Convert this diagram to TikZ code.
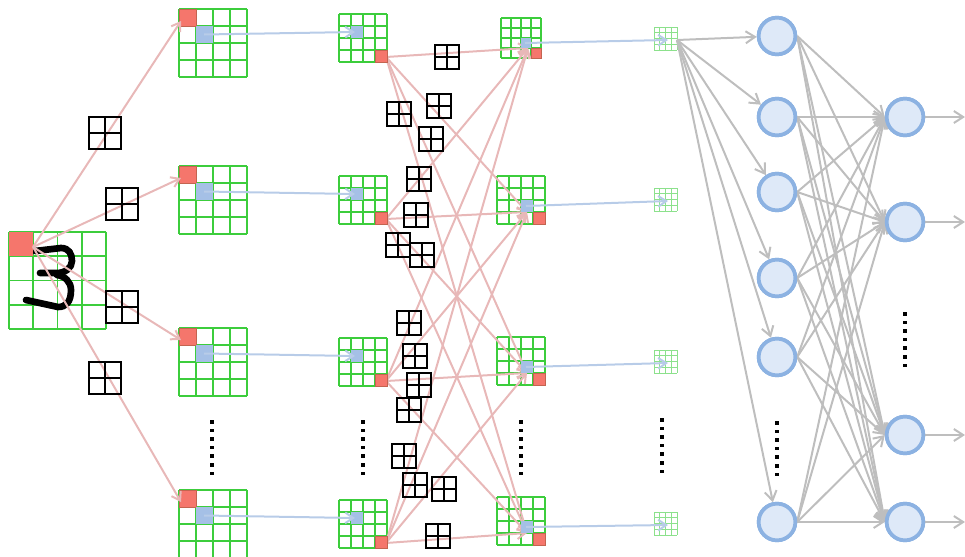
\documentclass[tikz,border=0pt]{standalone}
\usetikzlibrary{arrows.meta}
\definecolor{gridgreen}{RGB}{60,205,60}
\definecolor{lightgreen}{RGB}{140,225,140}
\definecolor{redcell}{RGB}{245,118,108}
\definecolor{redborder}{RGB}{195,100,80}
\definecolor{bluecell}{RGB}{165,192,230}
\definecolor{pinkline}{RGB}{232,184,184}
\definecolor{blueline}{RGB}{184,204,232}
\definecolor{grayline}{RGB}{190,190,190}
\definecolor{neuronfill}{RGB}{222,233,248}
\definecolor{neuronedge}{RGB}{140,178,226}
\newcommand{\fmap}[4]{%
  \foreach \k in {0,...,4}{%
    \draw[#1] ({#2+\k*#4},#3) -- ({#2+\k*#4},{#3+4*#4});
    \draw[#1] (#2,{#3+\k*#4}) -- ({#2+4*#4},{#3+\k*#4});
  }}
\newcommand{\dotcol}[2]{%
  \foreach \k in {0,...,6}{\fill[black] ({#1-1.7},{#2+\k*8.6}) rectangle +(3.6,3.6);}}
\begin{document}
\begin{tikzpicture}[x=0.75pt,y=-0.75pt,
  gl/.style={draw=gridgreen,line width=0.95pt},
  lgl/.style={draw=lightgreen,line width=0.6pt},
  rc/.style={fill=redcell,draw=redborder,line width=0.5pt},
  bc/.style={fill=bluecell},
  pinkarr/.style={draw=pinkline,line width=1.5pt,-{Straight Barb[length=6pt,width=8pt]}},
  bluearr/.style={draw=blueline,line width=1.5pt,-{Straight Barb[length=6pt,width=8pt]}},
  grayarr/.style={draw=grayline,line width=1.5pt,-{Straight Barb[length=7pt,width=9pt]}},
  neuron/.style={circle,draw=neuronedge,fill=neuronfill,line width=2.8pt,minimum size=27.5pt,inner sep=0pt},
  kern/.style={draw=black,line width=0.8pt,minimum size=#1,inner sep=0pt,
    path picture={\draw[black,line width=0.8pt] (path picture bounding box.north) -- (path picture bounding box.south);
                  \draw[black,line width=0.8pt] (path picture bounding box.west) -- (path picture bounding box.east);}},
  kern/.default=18pt,
  digit/.style={draw=black,line width=5pt,line cap=round,line join=round}]
\useasboundingbox (0,0) rectangle (965,557);

% ---------- input image ----------
\fmap{gl,line width=1.15pt}{9}{232}{24.25}
\draw[digit] (35,251) -- (61,248)
   .. controls (69,248) and (72,254) .. (72,261)
   .. controls (72,268) and (65,273) .. (57,273) -- (40,273);
\draw[digit] (57,275)
   .. controls (65,276) and (71,282) .. (71,290)
   .. controls (71,302) and (66,307) .. (58,307) -- (26,300);
\fill[redcell] (9,232) rectangle +(24.25,24.25);
\coordinate (inS) at (33,247);

% ---------- layer 1 ----------
\foreach \t [count=\i] in {9,166,328,490}{
  \fmap{gl,line width=1.1pt}{179}{\t}{17}
  \path[rc] (179,\t) rectangle +(17,17);
  \path[bc] (196,\t+17) rectangle +(17,17);
  \coordinate (a\i) at (181,\t+12);
  \coordinate (ab\i) at (204,\t+25.5);
}
% ---------- layer 2 ----------
\foreach \t [count=\i] in {14,176,338,500}{
  \fmap{gl}{339}{\t}{12}
  \coordinate (bb\i) at (355,\t+18);
  \coordinate (bs\i) at (386,\t+43);
}
% ---------- layer 3 ----------
\fmap{gl,line width=0.85pt}{501}{18}{10}
\coordinate (c1) at (528,48);
\coordinate (cb1) at (525,43);
\foreach \t [count=\i from 2] in {176,337,497}{
  \fmap{gl}{497}{\t}{12}
  \coordinate (c\i) at (527,\t+36);
  \coordinate (cb\i) at (526,\t+30);
}
% ---------- layer 4 ----------
\foreach \t [count=\i] in {27,188,350,512}{
  \fmap{lgl}{654}{\t}{5.8}
  \coordinate (d\i) at (668,\t+13);
}
\coordinate (f1) at (677,40);

% ---------- pink connections ----------
\foreach \i in {1,...,4}{\draw[pinkarr] (inS) -- (a\i);}
\foreach \i in {1,...,4}{\foreach \j in {1,...,4}{\draw[pinkarr] (bs\i) -- (c\j);}}

% ---------- cells over lines ----------
\foreach \t in {14,176,338,500}{
  \path[bc] (351,\t+12) rectangle +(12,12);
  \path[rc] (375,\t+36) rectangle +(12,12);
}
\path[bc] (521,38) rectangle +(10,10);
\path[rc] (531,48) rectangle +(10,10);
\foreach \t in {176,337,497}{
  \path[bc] (521,\t+24) rectangle +(12,12);
  \path[rc] (533,\t+36) rectangle +(12,12);
}

% ---------- blue arrows ----------
\foreach \i in {1,...,4}{
  \draw[bluearr] (ab\i) -- (bb\i);
  \draw[bluearr] (cb\i) -- (d\i);
}

% ---------- kernels ----------
\node[kern=24pt] (k1) at (105,133) {};
\node[kern=24pt] (k2) at (122,204) {};
\node[kern=24pt] (k3) at (122,307) {};
\node[kern=24pt] (k4) at (105,378) {};
\foreach \x/\y [count=\i] in {447/57,399/114,439/106,431/139,419/179,416/215,398/245,422/255,
   409/323,415/356,419/385,409/410,404/456,415/485,444/489,438/536}{
  \node[kern] (kk\i) at (\x,\y) {};
}

% ---------- dots ----------
\dotcol{212}{420}
\dotcol{363}{420}
\dotcol{521}{420}
\dotcol{662}{418}
\dotcol{777}{421}
\dotcol{905}{312}

% ---------- fully connected ----------
\foreach \y [count=\i] in {36,117,192,278,357,522}{\node[neuron] (n\i) at (777,\y) {};}
\foreach \y [count=\i] in {117,222,435,522}{
  \node[neuron] (m\i) at (905,\y) {};
  \coordinate (o\i) at (965,\y);
}
\foreach \i in {1,...,6}{\draw[grayarr] (f1) -- (n\i);}
\foreach \i in {1,...,6}{\foreach \j in {1,...,4}{\draw[grayarr] (n\i.east) -- (m\j.west);}}
\foreach \i in {1,...,4}{\draw[grayarr] (m\i) -- (o\i);}
\foreach \i in {1,...,6}{\node[neuron] at (n\i) {};}
\foreach \i in {1,...,4}{\node[neuron] at (m\i) {};}
\end{tikzpicture}
\end{document}
